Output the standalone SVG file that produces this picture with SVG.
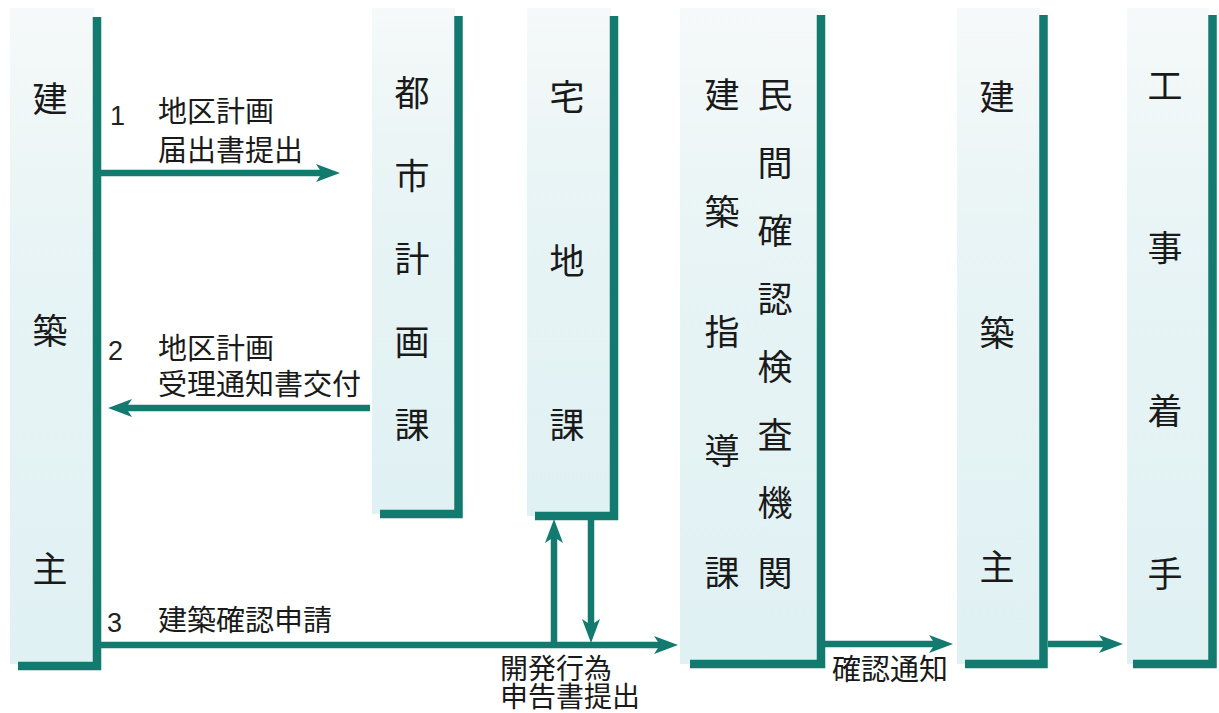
<svg xmlns="http://www.w3.org/2000/svg" width="1219" height="713" viewBox="0 0 1219 713">
<defs>
<linearGradient id="pf" x1="0" y1="0" x2="0" y2="1">
<stop offset="0" stop-color="#f6f9f9"/>
<stop offset="0.35" stop-color="#e8f4f5"/>
<stop offset="1" stop-color="#e0f1f3"/>
</linearGradient>
<marker id="ah" viewBox="0 0 24 18" refX="12" refY="9" markerWidth="24" markerHeight="18" markerUnits="userSpaceOnUse" orient="auto">
<path d="M0,0 L24,9 L0,18 L6,9 z" fill="#137a70"/>
</marker>
<style>
.fill{fill:url(#pf);}
.bar{fill:none;stroke:#137a70;stroke-width:8.5;}
.pt{font-family:"Noto Sans CJK JP","Noto Sans CJK SC",sans-serif;font-size:35px;fill:#1a1a1a;text-anchor:middle;}
.lb{font-family:"Noto Sans CJK JP","Noto Sans CJK SC",sans-serif;font-size:29px;fill:#1a1a1a;}
.lbs{font-family:"Noto Sans CJK JP","Noto Sans CJK SC",sans-serif;font-size:28px;fill:#1a1a1a;}
.num{font-family:"Liberation Sans",Arial,sans-serif;font-size:27px;fill:#222;}
.con{fill:none;stroke:#137a70;stroke-width:6.5;}
</style>
</defs>
<rect width="1219" height="713" fill="#ffffff"/>

<g id="node-kenchikunushi-1">
<rect class="fill" x="10" y="8" width="84" height="656"/>
<path class="bar" d="M97,17 V666 H18"/>
<text class="pt" x="50" y="112">建</text>
<text class="pt" x="50" y="344">築</text>
<text class="pt" x="50" y="582">主</text>
</g>

<g id="node-toshikeikaku">
<rect class="fill" x="372" y="8" width="83" height="506"/>
<path class="bar" d="M458.5,16 V514 H380"/>
<text class="pt" x="412" y="106">都</text>
<text class="pt" x="412" y="189">市</text>
<text class="pt" x="412" y="272">計</text>
<text class="pt" x="412" y="355">画</text>
<text class="pt" x="412" y="438">課</text>
</g>

<g id="node-takuchi">
<rect class="fill" x="527" y="8" width="84" height="508"/>
<path class="bar" d="M614,16 V516 H535"/>
<text class="pt" x="567" y="110">宅</text>
<text class="pt" x="567" y="274">地</text>
<text class="pt" x="567" y="438">課</text>
</g>

<g id="node-kakunin">
<rect class="fill" x="680" y="8" width="138" height="656"/>
<path class="bar" d="M821,15 V664 H690"/>
<text class="pt" x="722" y="108">建</text>
<text class="pt" x="722" y="225">築</text>
<text class="pt" x="722" y="345">指</text>
<text class="pt" x="722" y="464">導</text>
<text class="pt" x="722" y="586">課</text>
<text class="pt" x="775" y="108">民</text>
<text class="pt" x="775" y="176">間</text>
<text class="pt" x="775" y="244">確</text>
<text class="pt" x="775" y="312">認</text>
<text class="pt" x="775" y="380">検</text>
<text class="pt" x="775" y="448">査</text>
<text class="pt" x="775" y="516">機</text>
<text class="pt" x="775" y="586">関</text>
</g>

<g id="node-kenchikunushi-2">
<rect class="fill" x="957" y="8" width="83" height="656"/>
<path class="bar" d="M1043.5,15 V664 H965"/>
<text class="pt" x="997" y="110">建</text>
<text class="pt" x="997" y="346">築</text>
<text class="pt" x="997" y="580">主</text>
</g>

<g id="node-koji">
<rect class="fill" x="1127" y="8" width="82" height="656"/>
<path class="bar" d="M1212.5,15 V664 H1133"/>
<text class="pt" x="1165" y="99">工</text>
<text class="pt" x="1165" y="261">事</text>
<text class="pt" x="1165" y="424">着</text>
<text class="pt" x="1165" y="587">手</text>
</g>

<g id="connectors">
<line class="con" x1="101" y1="173" x2="328" y2="173" marker-end="url(#ah)"/>
<line class="con" x1="370" y1="408" x2="120" y2="408" marker-end="url(#ah)"/>
<line class="con" x1="101" y1="645" x2="666" y2="645" marker-end="url(#ah)"/>
<line class="con" x1="554" y1="645" x2="554" y2="531" marker-end="url(#ah)"/>
<line class="con" x1="591" y1="520" x2="591" y2="631" marker-end="url(#ah)"/>
<line class="con" x1="825" y1="644" x2="941" y2="644" marker-end="url(#ah)"/>
<line class="con" x1="1048" y1="644" x2="1111" y2="644" marker-end="url(#ah)"/>
</g>

<g id="labels">
<text class="num" x="110" y="125">1</text>
<text class="lb" x="158" y="122">地区計画<tspan x="158" dy="39">届出書提出</tspan></text>
<text class="num" x="108" y="360">2</text>
<text class="lb" x="158" y="359">地区計画<tspan x="158" dy="36">受理通知書交付</tspan></text>
<text class="num" x="107" y="632">3</text>
<text class="lb" x="158" y="631">建築確認申請</text>
<text class="lbs" x="500" y="679">開発行為<tspan x="500" dy="28">申告書提出</tspan></text>
<text class="lb" x="832" y="680">確認通知</text>
</g>
</svg>
